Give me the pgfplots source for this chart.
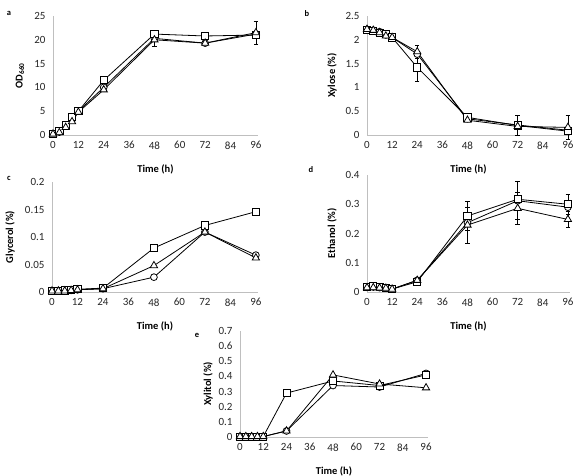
\documentclass[border=0pt]{standalone}
\usepackage{pgfplots}
\pgfplotsset{compat=1.18}
\usepackage{fontspec}
\setmainfont{Carlito}
\tikzset{letter/.style={font=\fontsize{8.5}{10}\selectfont\bfseries}}
\pgfplotsset{
  panel/.style={scale only axis, axis x line=bottom, axis y line=left,
    axis line style={draw=black!25, line width=0.6pt, -},
    xmin=0, xmax=97, ymin=0, xtick={0,12,...,96},
    major tick length=0pt, tick style={draw=none},
    tick label style={font=\fontsize{11}{12}\selectfont, text=black!85},
    x tick label style={yshift=-3pt},
    y tick label style={xshift=-4pt},
    /pgf/number format/assume math mode=true,
    /pgf/number format/.cd, fixed, precision=2, /pgfplots/.cd,
    scaled y ticks=false,
    xlabel={Time (h)},
    label style={font=\fontsize{10.5}{12}\selectfont\bfseries},
    xlabel style={at={(axis description cs:0.5,0)}, anchor=center, yshift=-34pt},
    clip=false},
  sq/.style={black, line width=0.8pt, mark=square*, mark size=3.6pt, mark options={fill=white, line width=0.8pt, solid}},
  tri/.style={black, line width=0.8pt, mark=triangle*, mark size=4.2pt, mark options={fill=white, line width=0.8pt, solid}},
  ci/.style={black, line width=0.8pt, mark=*, mark size=3.4pt, mark options={fill=white, line width=0.8pt, solid}},
  eb/.style={only marks, mark=none, forget plot, error bars/.cd, y dir=both, y explicit,
    error bar style={black, line width=0.5pt}, error mark options={rotate=90, mark size=2.2pt, black, line width=0.5pt}}
}
\begin{document}
\begin{tikzpicture}
\useasboundingbox (0,0) rectangle (575pt,476pt);
% ---------- a ----------
\begin{axis}[panel, at={(53pt,341pt)}, anchor=south west, width=205pt, height=119pt,
  ymax=25, ytick={0,5,...,25}, ylabel={OD\textsubscript{660}},
  ylabel style={at={(axis description cs:-0.161,0.5)}, anchor=center}]
\node[letter] at (rel axis cs:0,1) [xshift=-44pt, yshift=3pt] {a};
\addplot[eb] coordinates {(48,20.0) +- (0,1.4) (72,20.8) +- (0,0.6) (96,21.5) +- (0,2.5)};
\addplot[ci] coordinates {(0,0.2)(3,0.6)(6,1.9)(9,3.2)(12,5.0)(24,10.0)(48,20.3)(72,19.3)(96,21.2)};
\addplot[sq] coordinates {(0,0.3)(3,0.8)(6,2.2)(9,3.8)(12,5.0)(24,11.5)(48,21.2)(72,20.8)(96,21.0)};
\addplot[tri] coordinates {(0,0.2)(3,0.5)(6,1.6)(9,2.8)(12,4.8)(24,9.5)(48,20.0)(72,19.3)(96,21.5)};
\end{axis}
% ---------- b ----------
\begin{axis}[panel, at={(367pt,341pt)}, anchor=south west, width=203pt, height=119pt,
  ymax=2.5, ytick={0,0.5,...,2.5}, ylabel={Xylose (\%)},
  ylabel style={at={(axis description cs:-0.172,0.5)}, anchor=center}]
\node[letter] at (rel axis cs:0,1) [xshift=-60pt, yshift=2pt] {b};
\addplot[eb] coordinates {(24,1.42) +- (0,0.3) (24,1.75) +- (0,0.14) (72,0.2) +- (0,0.21) (96,0.16) +- (0,0.25)};
\addplot[ci] coordinates {(0,2.22)(3,2.2)(6,2.17)(9,2.1)(12,2.05)(24,1.7)(48,0.34)(72,0.21)(96,0.1)};
\addplot[sq] coordinates {(0,2.2)(3,2.18)(6,2.15)(9,2.12)(12,2.05)(24,1.42)(48,0.37)(72,0.2)(96,0.08)};
\addplot[tri] coordinates {(0,2.22)(3,2.2)(6,2.15)(9,2.08)(12,2.05)(24,1.75)(48,0.31)(72,0.18)(96,0.16)};
\end{axis}
% ---------- c ----------
\begin{axis}[panel, at={(52pt,184pt)}, anchor=south west, width=206pt, height=110pt,
  ymax=0.2, ytick={0,0.05,0.1,0.15,0.2}, ylabel={Glycerol (\%)},
  ylabel style={at={(axis description cs:-0.204,0.5)}, anchor=center}]
\node[letter] at (rel axis cs:0,1) [xshift=-43pt, yshift=4pt] {c};
\addplot[ci] coordinates {(0,0.002)(3,0.002)(6,0.002)(9,0.003)(12,0.004)(24,0.006)(48,0.027)(72,0.109)(96,0.067)};
\addplot[sq] coordinates {(0,0.002)(3,0.002)(6,0.003)(9,0.004)(12,0.005)(24,0.007)(48,0.08)(72,0.121)(96,0.146)};
\addplot[tri] coordinates {(0,0.002)(3,0.002)(6,0.002)(9,0.003)(12,0.004)(24,0.006)(48,0.048)(72,0.109)(96,0.062)};
\end{axis}
% ---------- d ----------
\begin{axis}[panel, at={(367pt,184pt)}, anchor=south west, width=203pt, height=117pt,
  ymax=0.4, ytick={0,0.1,...,0.4}, ylabel={Ethanol (\%)},
  ylabel style={at={(axis description cs:-0.172,0.5)}, anchor=center}]
\node[letter] at (rel axis cs:0,1) [xshift=-56pt, yshift=5pt] {d};
\addplot[eb] coordinates {(48,0.26) +- (0,0.05) (48,0.229) +- (0,0.062) (72,0.312) +- (0,0.065) (72,0.286) +- (0,0.054) (96,0.30) +- (0,0.035) (96,0.248) +- (0,0.028)};
\addplot[ci] coordinates {(0,0.016)(3,0.017)(6,0.015)(9,0.014)(12,0.01)(24,0.04)(48,0.237)(72,0.312)(96,0.29)};
\addplot[sq] coordinates {(0,0.018)(3,0.02)(6,0.017)(9,0.015)(12,0.01)(24,0.035)(48,0.26)(72,0.317)(96,0.30)};
\addplot[tri] coordinates {(0,0.015)(3,0.015)(6,0.014)(9,0.013)(12,0.01)(24,0.04)(48,0.229)(72,0.286)(96,0.248)};
\end{axis}
% ---------- e ----------
\begin{axis}[panel, at={(240pt,39pt)}, anchor=south west, width=188pt, height=106pt,
  ymax=0.7, ytick={0,0.1,...,0.7}, ylabel={Xylitol (\%)},
  ylabel style={at={(axis description cs:-0.170,0.5)}, anchor=center}]
\node[letter] at (rel axis cs:0,1) [xshift=-43pt, yshift=-4pt] {e};
\addplot[ci] coordinates {(0,0.003)(3,0.003)(6,0.003)(9,0.003)(12,0.003)(24,0.04)(48,0.34)(72,0.33)(96,0.42)};
\addplot[sq] coordinates {(0,0.003)(3,0.003)(6,0.003)(9,0.003)(12,0.003)(24,0.29)(48,0.37)(72,0.34)(96,0.41)};
\addplot[tri] coordinates {(0,0.003)(3,0.003)(6,0.003)(9,0.003)(12,0.003)(24,0.04)(48,0.41)(72,0.35)(96,0.325)};
\end{axis}
\end{tikzpicture}
\end{document}
